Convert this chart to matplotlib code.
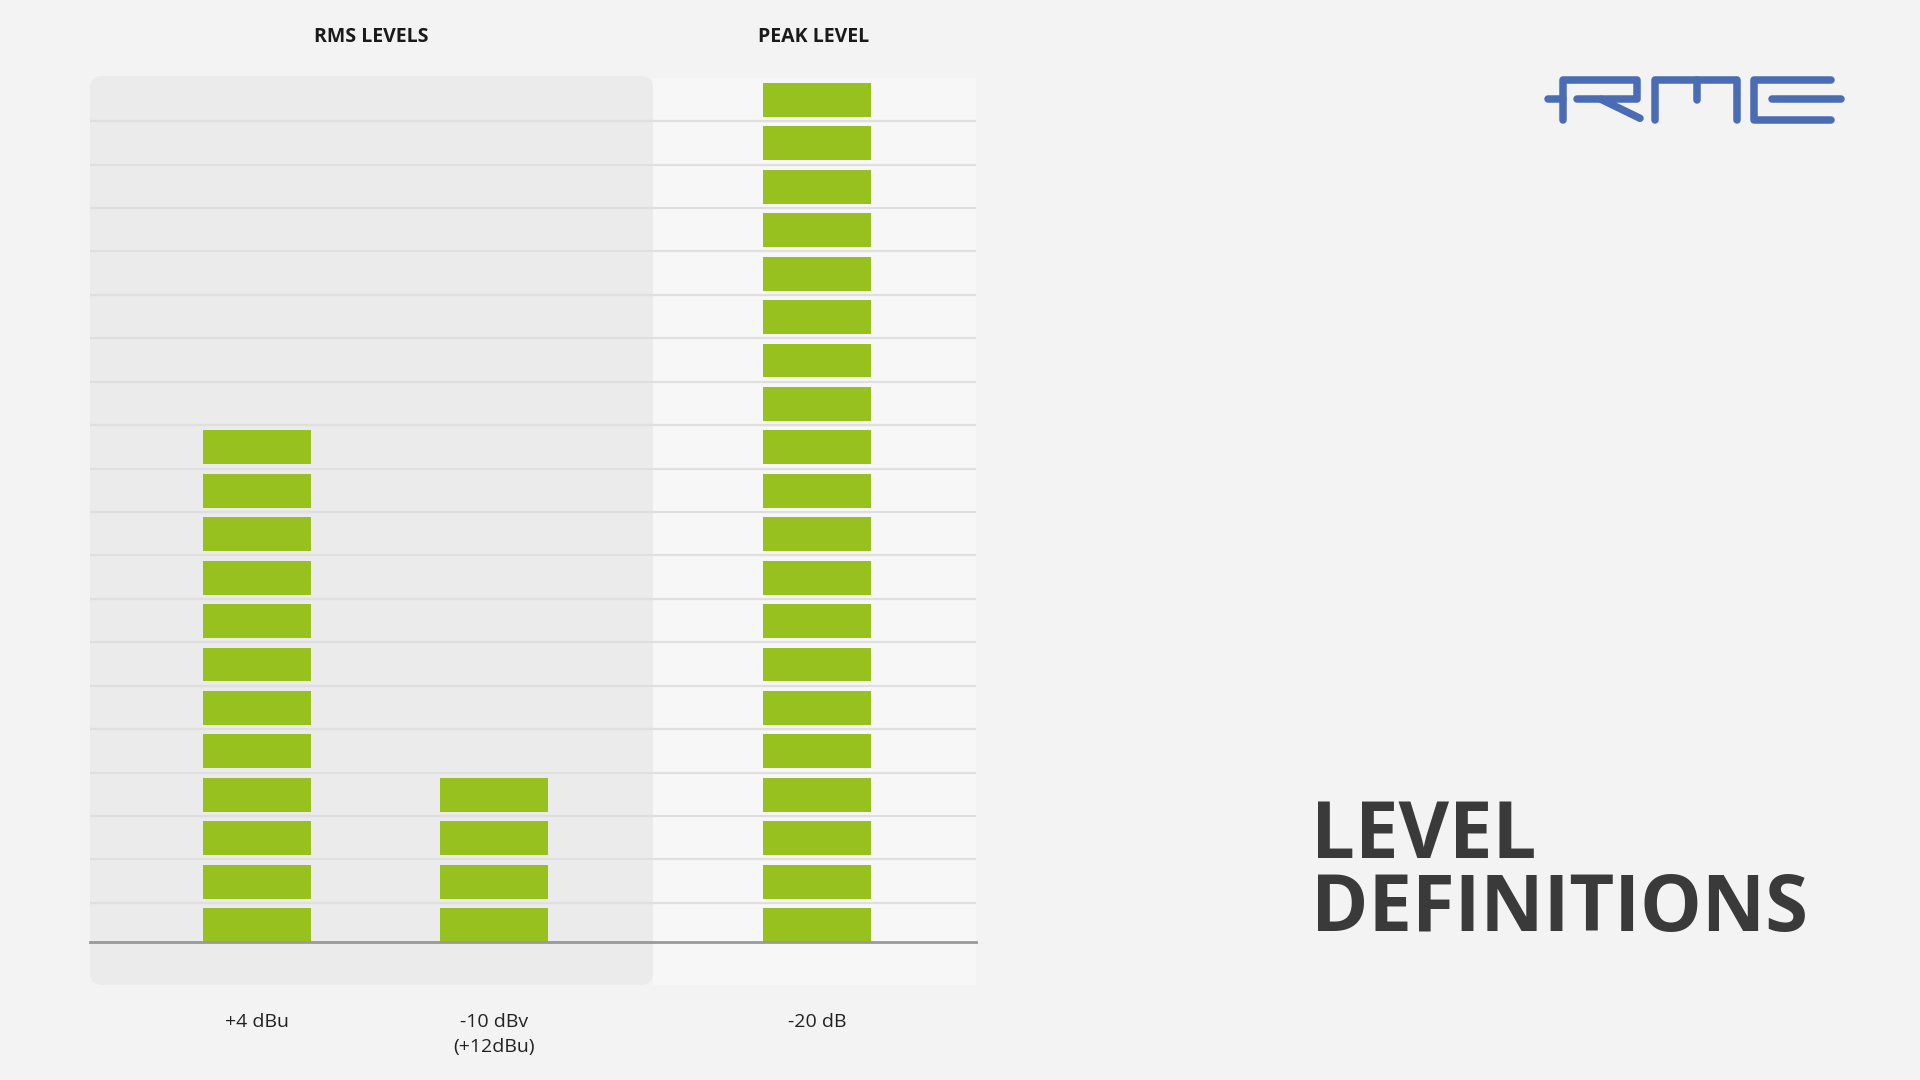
import numpy as np
import matplotlib.pyplot as plt
from matplotlib.patches import FancyBboxPatch, Rectangle

plt.rcParams['font.family'] = ['Open Sans', 'DejaVu Sans']

# data
categories = ['+4 dBu', '-10 dBv\n(+12dBu)', '-20 dB']
segments = [12, 4, 20]          # lit meter segments per column
groups = ['RMS LEVELS', 'PEAK LEVEL']
title_lines = ['LEVEL', 'DEFINITIONS']

W, H = 1920, 1080
GREEN = '#97c11f'
BLUE = '#4a6cb4'

fig = plt.figure(figsize=(19.2, 10.8), dpi=100, facecolor='#f3f3f3')

# background layer, pixel coords (y down)
bg = fig.add_axes([0, 0, 1, 1], zorder=0)
bg.set_xlim(0, W)
bg.set_ylim(H, 0)
bg.axis('off')

bg.add_patch(Rectangle((653, 78), 323, 907, fc='#f7f7f7', ec='none'))
bg.add_patch(FancyBboxPatch((90, 76), 563, 909,
                            boxstyle='round,pad=0,rounding_size=12',
                            fc='#ebebeb', ec='none'))

bg.text(371, 37, groups[0], ha='center', va='center', fontsize=14,
        fontweight='bold', color='#1a1a1a')
bg.text(814, 37, groups[1], ha='center', va='center', fontsize=14,
        fontweight='bold', color='#1a1a1a')

bg.text(1311, 931, '\n'.join(title_lines), ha='left', va='baseline',
        fontsize=56, fontweight='bold', color='#3a3a3a', linespacing=0.9)

# RME logo
logo = [
    [(1547.5, 99.3), (1562.7, 99.3)],
    [(1562.7, 119.7), (1562.7, 79.7), (1637.3, 79.7), (1637.3, 99.3), (1577, 99.3)],
    [(1601, 99.3), (1640, 118.3)],
    [(1655.3, 119.7), (1655.3, 79.7), (1737.3, 79.7), (1737.3, 119.7)],
    [(1697.3, 79.7), (1697.3, 99.6)],
    [(1831.3, 79.7), (1754, 79.7), (1754, 119.7), (1831.3, 119.7)],
    [(1772, 99.3), (1841.3, 99.3)],
]
for pts in logo:
    px, py = zip(*pts)
    bg.plot(px, py, color=BLUE, lw=5.4, solid_capstyle='round',
            solid_joinstyle='round')

# meter chart
ax = fig.add_axes([90 / W, (H - 942) / H, (976 - 90) / W, (942 - 76) / H], zorder=1)
ax.patch.set_alpha(0)
xs = [0, 1, 2.363]
seg_h = 0.78
for x, n in zip(xs, segments):
    ax.bar(np.full(n, x), seg_h, bottom=np.arange(n), width=0.456,
           color=GREEN, zorder=3)

ax.set_xlim(-0.705, 3.034)
ax.set_ylim(0, 19.94)
ax.set_yticks(np.arange(max(segments) - 1) + 0.9)
ax.grid(axis='y', color='#dfdfdf', lw=1.6, zorder=1)
ax.tick_params(axis='y', length=0, labelleft=False)
ax.set_xticks(xs, categories)
ax.tick_params(axis='x', length=0, pad=51, labelsize=14, labelcolor='#222222')
for lbl in ax.get_xticklabels():
    lbl.set_linespacing(1.5)
for s in ax.spines.values():
    s.set_visible(False)
ax.axhline(0, color='#999999', lw=2, clip_on=False, zorder=4)

fig.savefig('out.png', dpi=100, facecolor=fig.get_facecolor())
